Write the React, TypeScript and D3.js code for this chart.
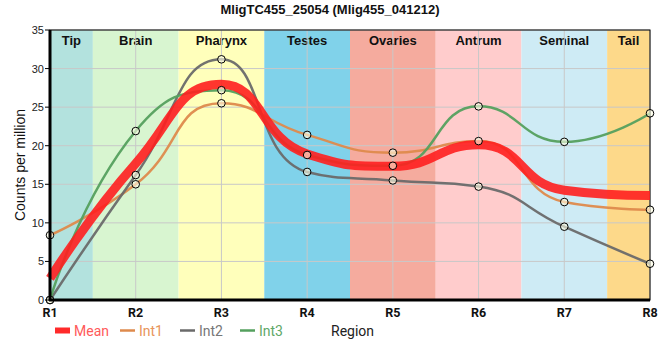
import * as d3 from "d3";
import React, { useEffect, useRef } from "react";

const regions = ["R1", "R2", "R3", "R4", "R5", "R6", "R7", "R8"];
const bandNames = ["Tip", "Brain", "Pharynx", "Testes", "Ovaries", "Antrum", "Seminal", "Tail"];
const bandColors = ["#b3e2de", "#d8f5d0", "#ffffbb", "#80d2ea", "#f5ab9e", "#ffcccc", "#ceebf5", "#fdd98a"];
const int1 = [8.4, 15.0, 25.5, 21.4, 19.1, 20.6, 12.7, 11.7];
const int2 = [0, 16.2, 31.2, 16.6, 15.5, 14.7, 9.5, 4.7];
const int3 = [0, 21.9, 27.2, 18.8, 17.4, 25.1, 20.5, 24.2];
const yTicks = [0, 5, 10, 15, 20, 25, 30, 35];

// smoothed polyline: control points along the neighbour chord, kept inside each segment's box
const smoothPath = (pts: [number, number][], smooth = 0.5) => {
	const p = d3.path();
	const n = pts.length;
	let cpx0 = pts[0][0];
	let cpy0 = pts[0][1];
	p.moveTo(cpx0, cpy0);
	for (let i = 1; i < n; i++) {
		const [prevX, prevY] = pts[i - 1];
		const [x, y] = pts[i];
		let cpx1 = x;
		let cpy1 = y;
		let nextCpx0 = x;
		let nextCpy0 = y;
		if (i < n - 1) {
			const [nextX, nextY] = pts[i + 1];
			let vx = nextX - prevX;
			let vy = nextY - prevY;
			const lenPrev = Math.hypot(x - prevX, y - prevY);
			const lenNext = Math.hypot(nextX - x, nextY - y);
			const ratio = lenNext / (lenNext + lenPrev);
			nextCpx0 = x + vx * smooth * ratio;
			nextCpy0 = y + vy * smooth * ratio;
			nextCpx0 = Math.max(Math.min(nextCpx0, Math.max(nextX, x)), Math.min(nextX, x));
			nextCpy0 = Math.max(Math.min(nextCpy0, Math.max(nextY, y)), Math.min(nextY, y));
			vx = nextCpx0 - x;
			vy = nextCpy0 - y;
			cpx1 = x - (vx * lenPrev) / lenNext;
			cpy1 = y - (vy * lenPrev) / lenNext;
			cpx1 = Math.max(Math.min(cpx1, Math.max(prevX, x)), Math.min(prevX, x));
			cpy1 = Math.max(Math.min(cpy1, Math.max(prevY, y)), Math.min(prevY, y));
			vx = x - cpx1;
			vy = y - cpy1;
			nextCpx0 = x + (vx * lenNext) / lenPrev;
			nextCpy0 = y + (vy * lenNext) / lenPrev;
		}
		p.bezierCurveTo(cpx0, cpy0, cpx1, cpy1, x, y);
		cpx0 = nextCpx0;
		cpy0 = nextCpy0;
	}
	return p.toString();
};

const App = () => {
	const ref = useRef<SVGSVGElement>(null);

	useEffect(() => {
		document.body.style.margin = "0";
		const width = 660;
		const height = 360;
		const loff = 50;
		const roff = 10;
		const toff = 30;
		const boff = 60;

		const svg = d3.select(ref.current);
		svg.selectAll("*").remove();
		svg.attr("width", width).attr("height", height);

		const xScale = d3.scalePoint().domain(regions).range([loff, width - roff]);
		const yScale = d3.scaleLinear().domain([0, 35]).range([height - boff, toff]);
		const step = xScale.step();

		// region bands
		bandNames.forEach((name, i) => {
			const cx = xScale(regions[i]) as number;
			const x0 = Math.max(loff, cx - step / 2);
			const x1 = Math.min(width - roff, cx + step / 2);
			svg.append("rect")
				.attr("x", x0)
				.attr("y", toff)
				.attr("width", x1 - x0)
				.attr("height", height - boff - toff)
				.attr("fill", bandColors[i]);
			svg.append("text")
				.attr("x", (x0 + x1) / 2)
				.attr("y", toff + 15)
				.attr("text-anchor", "middle")
				.attr("font-family", "Liberation Sans, Arial, sans-serif")
				.attr("font-weight", "bold")
				.attr("font-size", 13)
				.attr("fill", "#111")
				.text(name);
		});

		// grid
		yTicks.forEach((t) => {
			svg.append("line")
				.attr("x1", loff)
				.attr("x2", width - roff)
				.attr("y1", yScale(t))
				.attr("y2", yScale(t))
				.attr("stroke", "#c8c8c8")
				.attr("stroke-width", 1);
		});
		regions.forEach((r) => {
			svg.append("line")
				.attr("x1", xScale(r) as number)
				.attr("x2", xScale(r) as number)
				.attr("y1", toff)
				.attr("y2", height - boff)
				.attr("stroke", "#c8c8c8")
				.attr("stroke-width", 1);
		});

		// frame
		svg.append("rect")
			.attr("x", loff)
			.attr("y", toff)
			.attr("width", width - roff - loff)
			.attr("height", height - boff - toff)
			.attr("fill", "none")
			.attr("stroke", "#000")
			.attr("stroke-width", 1);

		const mean = regions.map((r, i) => (int1[i] + int2[i] + int3[i]) / 3);
		const toPts = (data: number[]) =>
			data.map((v, i) => [xScale(regions[i]) as number, yScale(v)] as [number, number]);

		const addPath = (data: number[], color: string, w: number, op: number) => {
			svg.append("path")
				.attr("fill", "none")
				.attr("stroke", color)
				.attr("stroke-width", w)
				.attr("stroke-opacity", op)
				.attr("stroke-linejoin", "round")
				.attr("d", smoothPath(toPts(data)));
		};

		addPath(int1, "#de8a4c", 2.5, 0.95);
		addPath(int2, "#6a6a6a", 2.5, 0.95);
		addPath(int3, "#55a05e", 2.5, 0.95);
		addPath(mean, "#ff1f1f", 9, 0.9);

		[int1, int2, int3].forEach((series) => {
			series.forEach((v, i) => {
				svg.append("circle")
					.attr("cx", xScale(regions[i]) as number)
					.attr("cy", yScale(v))
					.attr("r", 3.8)
					.attr("fill", "rgba(255,255,230,0.6)")
					.attr("stroke", "#000")
					.attr("stroke-width", 1);
			});
		});

		// axes
		svg.append("line")
			.attr("x1", loff)
			.attr("x2", loff)
			.attr("y1", toff)
			.attr("y2", height - boff + 1)
			.attr("stroke", "#000")
			.attr("stroke-width", 3);
		svg.append("line")
			.attr("x1", loff - 1)
			.attr("x2", width - roff)
			.attr("y1", height - boff)
			.attr("y2", height - boff)
			.attr("stroke", "#000")
			.attr("stroke-width", 3);

		yTicks.forEach((t) => {
			svg.append("line")
				.attr("x1", loff - 5)
				.attr("x2", loff)
				.attr("y1", yScale(t))
				.attr("y2", yScale(t))
				.attr("stroke", "#000");
			svg.append("text")
				.attr("x", loff - 6)
				.attr("y", yScale(t) + 4)
				.attr("text-anchor", "end")
				.attr("font-family", "Liberation Sans, Arial, sans-serif")
				.attr("font-size", 11)
				.attr("fill", "#222")
				.text(t);
		});

		regions.forEach((r) => {
			svg.append("text")
				.attr("x", xScale(r) as number)
				.attr("y", height - boff + 17)
				.attr("text-anchor", "middle")
				.attr("font-family", "Roboto, sans-serif")
				.attr("font-weight", "bold")
				.attr("font-size", 12.5)
				.attr("fill", "#111")
				.text(r);
		});

		// title + labels
		svg.append("text")
			.attr("x", width / 2)
			.attr("y", 14)
			.attr("text-anchor", "middle")
			.attr("font-family", "Liberation Sans, Arial, sans-serif")
			.attr("font-weight", "bold")
			.attr("font-size", 13)
			.attr("fill", "#111")
			.text("MligTC455_25054 (Mlig455_041212)");

		svg.append("text")
			.attr("transform", `translate(25, ${(toff + height - boff) / 2}) rotate(270)`)
			.attr("text-anchor", "middle")
			.attr("font-family", "Liberation Sans, Arial, sans-serif")
			.attr("font-size", 14)
			.attr("fill", "#111")
			.text("Counts per million");

		svg.append("text")
			.attr("x", 331)
			.attr("y", 336)
			.attr("font-family", "Roboto, sans-serif")
			.attr("font-size", 14)
			.attr("fill", "#222")
			.text("Region");

		// legend
		const legend = [
			{ name: "Mean", color: "#ff2a2a", text: "#ff5a5a", thick: true },
			{ name: "Int1", color: "#de8a4c", text: "#e8955a", thick: false },
			{ name: "Int2", color: "#6a6a6a", text: "#777", thick: false },
			{ name: "Int3", color: "#55a05e", text: "#5fa868", thick: false },
		];
		legend.forEach((d, i) => {
			const x = 55 + i * 60 + (i > 0 ? 5 : 0);
			svg.append("line")
				.attr("x1", x)
				.attr("x2", x + 15)
				.attr("y1", 330.5)
				.attr("y2", 330.5)
				.attr("stroke", d.color)
				.attr("stroke-width", d.thick ? 6 : 2.5);
			svg.append("text")
				.attr("x", x + 19)
				.attr("y", 336)
				.attr("font-family", "Roboto, sans-serif")
				.attr("font-size", 14)
				.attr("fill", d.text)
				.text(d.name);
		});
	});

	return <svg ref={ref} style={{ display: "block" }}></svg>;
};

export default App;
